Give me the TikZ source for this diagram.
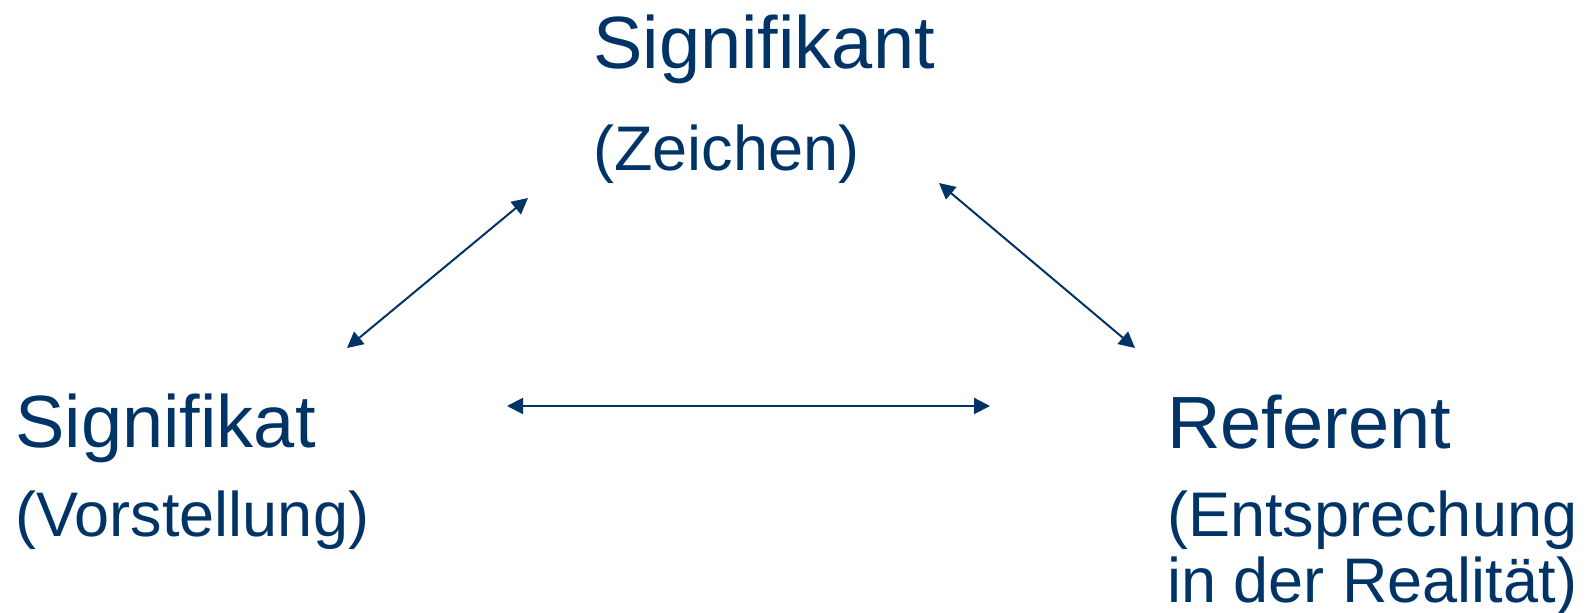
\documentclass[tikz,border=0pt]{standalone}
\usepackage{fontspec}
\setmainfont{Liberation Sans}
\usetikzlibrary{arrows.meta}
\definecolor{navy}{RGB}{0,51,102}
\begin{document}
\begin{tikzpicture}[x=0.5pt,y=-0.5pt,
  big/.style={inner sep=0pt,anchor=base west,text=navy,font=\fontsize{37}{40}\selectfont},
  small/.style={inner sep=0pt,anchor=base west,text=navy,align=left,font=\fontsize{31.5}{33}\selectfont},
  rel/.style={draw=navy,line width=1pt,{Triangle[length=8pt,width=8pt]}-{Triangle[length=8pt,width=8pt]}}]
\useasboundingbox (0,0) rectangle (1594,613);
\node[big] (sk) at (593,69) {Signifikant};
\node[small] (skz) at (593,171) {(Zeichen)};
\node[big] (sa) at (15,448) {Signifikat};
\node[small] (sav) at (15,537) {(Vorstellung)};
\node[big] (re) at (1167,449) {Referent};
\node[small] (ree) at (1167,603) {(Entsprechung\\in der Realität)};
\coordinate (l1) at (347,348);
\coordinate (l2) at (528,198);
\coordinate (r1) at (939,183);
\coordinate (r2) at (1135,348);
\coordinate (h1) at (507,406);
\coordinate (h2) at (990,406);
\draw[rel] (l1) -- (l2);
\draw[rel] (r1) -- (r2);
\draw[rel] (h1) -- (h2);
\end{tikzpicture}
\end{document}
